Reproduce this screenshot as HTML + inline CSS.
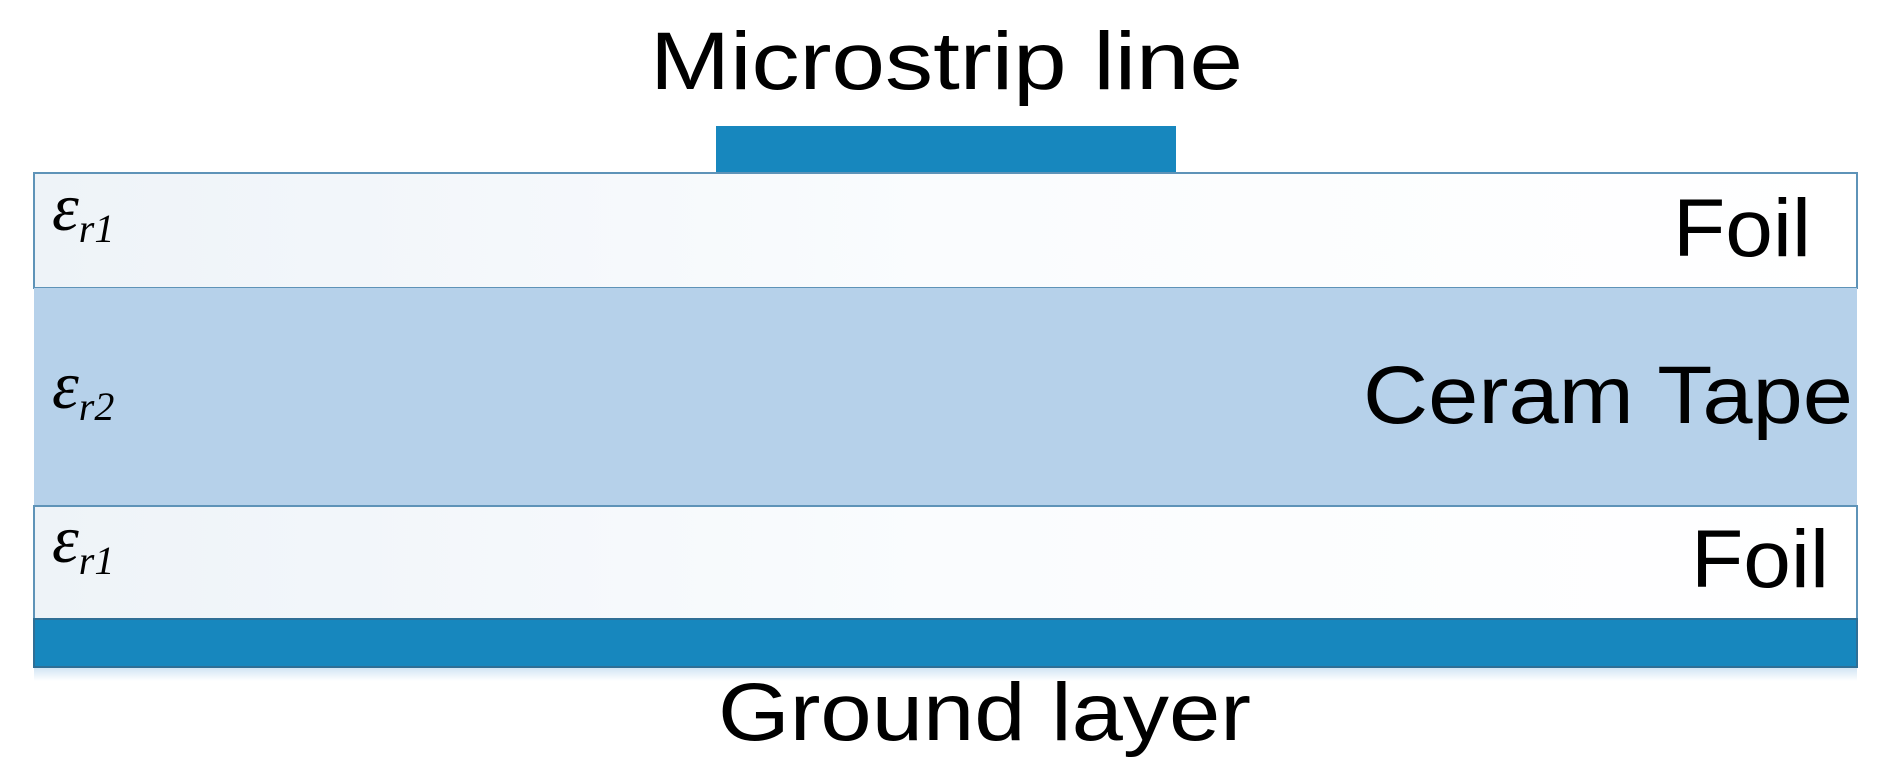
<!DOCTYPE html>
<html><head><meta charset="utf-8"><style>html,body{margin:0;padding:0;background:#fff}svg{display:block}</style></head>
<body>
<svg width="1887" height="780" viewBox="0 0 1887 780" xmlns="http://www.w3.org/2000/svg">
<defs>
<linearGradient id="fg" x1="0" y1="0" x2="1" y2="0">
<stop offset="0" stop-color="#eef3f8"/><stop offset="0.5" stop-color="#fafcfe"/><stop offset="1" stop-color="#ffffff"/>
</linearGradient>
<linearGradient id="sh" x1="0" y1="0" x2="0" y2="1">
<stop offset="0" stop-color="#cfe3f3"/><stop offset="1" stop-color="#ffffff"/>
</linearGradient>
</defs>
<rect x="34" y="667" width="1823" height="14" fill="url(#sh)"/>
<rect x="716" y="126" width="460" height="47" fill="#1787be"/>
<rect x="34" y="173" width="1823" height="115" fill="url(#fg)" stroke="#5e93b8" stroke-width="2"/>
<rect x="34" y="288" width="1823" height="218" fill="#b6d1ea"/>
<rect x="34" y="506" width="1823" height="113" fill="url(#fg)" stroke="#5e93b8" stroke-width="2"/>
<rect x="34" y="619" width="1823" height="48" fill="#1787be" stroke="#2f6f96" stroke-width="2"/>
<g font-family="Liberation Sans, sans-serif" font-size="82" fill="#000">
<text x="650" y="89" textLength="593" lengthAdjust="spacingAndGlyphs">Microstrip line</text>
<text x="718" y="740" textLength="533" lengthAdjust="spacingAndGlyphs">Ground layer</text>
<text x="1673" y="256" textLength="138" lengthAdjust="spacingAndGlyphs">Foil</text>
<text x="1363" y="423" textLength="490" lengthAdjust="spacingAndGlyphs">Ceram Tape</text>
<text x="1691" y="587" textLength="138" lengthAdjust="spacingAndGlyphs">Foil</text>
</g>
<g font-family="Liberation Serif, serif" font-style="italic" fill="#000">
<text x="52" y="230" font-size="68">ε<tspan font-size="40" dy="12">r1</tspan></text>
<text x="52" y="408" font-size="68">ε<tspan font-size="40" dy="12">r2</tspan></text>
<text x="52" y="562" font-size="68">ε<tspan font-size="40" dy="12">r1</tspan></text>
</g>
</svg>
</body></html>
